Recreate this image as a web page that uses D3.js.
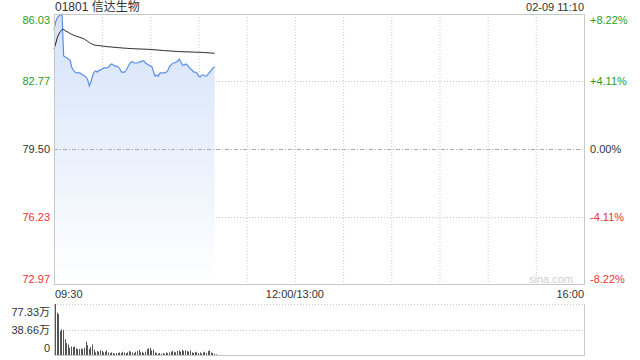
<!DOCTYPE html>
<html>
<head>
<meta charset="utf-8">
<script src="https://cdn.jsdelivr.net/npm/d3@7"></script>
<style>
  html, body { margin: 0; padding: 0; background: #fff; }
  svg { display: block; font-family: "Liberation Sans", Arial, "Noto Sans CJK SC", sans-serif; }
</style>
</head>
<body>
<svg id="chart" width="640" height="360"></svg>
<script>
// Chart data
const title = '01801 信达生物';
const stamp = '02-09 11:10';

// price per minute from 09:30
const prices = [
  85.26, 85.64, 85.84, 85.93, 85.98, 86.03, 84.00, 83.95, 83.90, 83.85,
  83.80, 83.47, 83.32, 83.22, 83.18, 83.18, 83.18, 83.13, 83.08, 83.03,
  82.98, 82.84, 82.55, 82.74, 83.03, 83.22, 83.27, 83.22, 83.32, 83.32,
  83.37, 83.42, 83.42, 83.42, 83.47, 83.56, 83.61, 83.56, 83.51, 83.51,
  83.47, 83.37, 83.22, 83.22, 83.22, 83.32, 83.47, 83.61, 83.71, 83.71,
  83.66, 83.66, 83.66, 83.71, 83.71, 83.76, 83.76, 83.66, 83.61, 83.56,
  83.51, 83.47, 83.22, 83.03, 83.08, 83.03, 83.18, 83.18, 83.18, 83.18,
  83.22, 83.32, 83.51, 83.56, 83.66, 83.66, 83.71, 83.76, 83.85, 83.71,
  83.56, 83.56, 83.61, 83.56, 83.47, 83.37, 83.32, 83.22, 83.22, 83.18,
  83.03, 82.98, 83.08, 83.08, 83.03, 83.03, 83.13, 83.22, 83.32, 83.42,
  83.47
];

// average price per minute
const averages = [
  84.34, 84.58, 84.87, 85.06, 85.18, 85.28, 85.28, 85.22, 85.18, 85.14,
  85.09, 85.04, 85.01, 84.98, 84.95, 84.93, 84.90, 84.88, 84.85, 84.81,
  84.76, 84.70, 84.65, 84.60, 84.56, 84.53, 84.52, 84.51, 84.50, 84.49,
  84.48, 84.47, 84.46, 84.45, 84.44, 84.44, 84.43, 84.42, 84.42, 84.41,
  84.40, 84.40, 84.39, 84.38, 84.38, 84.37, 84.37, 84.36, 84.36, 84.35,
  84.35, 84.35, 84.34, 84.34, 84.34, 84.33, 84.33, 84.33, 84.32, 84.32,
  84.32, 84.31, 84.30, 84.30, 84.29, 84.28, 84.28, 84.27, 84.26, 84.26,
  84.25, 84.25, 84.24, 84.24, 84.23, 84.23, 84.22, 84.22, 84.21, 84.21,
  84.21, 84.20, 84.20, 84.20, 84.20, 84.19, 84.19, 84.19, 84.18, 84.18,
  84.18, 84.18, 84.17, 84.17, 84.16, 84.16, 84.15, 84.15, 84.14, 84.14,
  84.13
];

// volume per minute, in 万
const volumes = [
  77.33, 64, 62, 36, 39, 38, 24, 18, 16, 11,
  13, 12, 13, 10, 9, 9, 10, 9, 11, 20,
  15, 9, 12, 16, 8, 4, 6, 5, 7, 6,
  4, 5, 7, 4, 3, 4, 3, 2, 3, 3,
  4, 3, 5, 4, 3, 4, 6, 5, 4, 3,
  5, 6, 8, 4, 5, 3, 5, 9, 10, 11,
  7, 8, 4, 3, 2, 3, 2, 3, 2, 4,
  3, 4, 5, 6, 5, 4, 6, 7, 5, 8,
  6, 7, 6, 5, 7, 4, 3, 5, 4, 3,
  4, 2, 4, 5, 3, 6, 7, 4, 3, 2,
  1
];

const priceTicks = [86.03, 82.77, 79.50, 76.23, 72.97];
const pctLabels = ['+8.22%', '+4.11%', '0.00%', '-4.11%', '-8.22%'];
const volTicks = [77.33, 38.66, 0];
const volLabels = ['77.33万', '38.66万', '0'];
const timeTicks = [0, 150, 330];
const timeLabels = ['09:30', '12:00/13:00', '16:00'];

// Colours
const green = '#1f9e1f';
const red = '#f03232';
const dark = '#333';
const gridColor = '#c8c8c8';

const svg = d3.select('#chart');

// Scales
const x = d3.scaleLinear().domain([0, 330]).range([54, 584]);
const y = d3.scaleLinear().domain([72.97, 86.03]).range([284, 14]);
const yVol = d3.scaleLinear().domain([0, 77.33]).range([355, 304]);

// Gradient for the area
const grad = svg.append('defs').append('linearGradient')
  .attr('id', 'fill')
  .attr('gradientUnits', 'userSpaceOnUse')
  .attr('x1', 0).attr('y1', y(86.03))
  .attr('x2', 0).attr('y2', y(72.97));
grad.append('stop').attr('offset', 0).attr('stop-color', '#d4e2f9');
grad.append('stop').attr('offset', 1).attr('stop-color', '#ffffff');

// Vertical grid every 30 minutes
svg.append('g')
  .selectAll('line')
  .data(d3.range(30, 330, 30))
  .enter().append('line')
  .attr('x1', d => x(d) + 0.5).attr('x2', d => x(d) + 0.5)
  .attr('y1', y(86.03)).attr('y2', y(72.97))
  .attr('stroke', gridColor)
  .attr('stroke-dasharray', '1,2');

// Horizontal grid in price panel
svg.append('g')
  .selectAll('line')
  .data([82.77, 76.23])
  .enter().append('line')
  .attr('x1', x(0)).attr('x2', x(330))
  .attr('y1', d => Math.round(y(d)) + 0.5).attr('y2', d => Math.round(y(d)) + 0.5)
  .attr('stroke', gridColor)
  .attr('stroke-dasharray', '1,2');

// Area + lines
const area = d3.area()
  .x((d, i) => x(i))
  .y0(y(72.97))
  .y1(d => y(d));

svg.append('path')
  .datum(prices)
  .attr('d', area)
  .attr('fill', 'url(#fill)');

// previous close line
svg.append('line')
  .attr('x1', x(0)).attr('x2', x(330))
  .attr('y1', Math.round(y(79.50)) + 0.5).attr('y2', Math.round(y(79.50)) + 0.5)
  .attr('stroke', '#aaa')
  .attr('stroke-dasharray', '4,2,1,2');

svg.append('path')
  .datum(prices)
  .attr('d', d3.line().x((d, i) => x(i)).y(d => y(d)))
  .attr('fill', 'none')
  .attr('stroke', '#5a8ee8')
  .attr('stroke-width', 1.2);

svg.append('path')
  .datum(averages)
  .attr('d', d3.line().x((d, i) => x(i)).y(d => y(d)))
  .attr('fill', 'none')
  .attr('stroke', '#222')
  .attr('stroke-width', 1);

// Price panel frame
svg.append('rect')
  .attr('x', x(0) + 0.5).attr('y', y(86.03) + 0.5)
  .attr('width', x(330) - x(0)).attr('height', y(72.97) - y(86.03))
  .attr('fill', 'none')
  .attr('stroke', gridColor);

// Left price labels
const labelOffset = i => (i === 0 ? 10 : i === priceTicks.length - 1 ? -1 : 4);
const priceColor = i => (i < 2 ? green : i === 2 ? dark : red);

svg.append('g')
  .selectAll('text')
  .data(priceTicks)
  .enter().append('text')
  .attr('x', 50)
  .attr('y', (d, i) => y(d) + labelOffset(i))
  .attr('text-anchor', 'end')
  .attr('font-size', 11)
  .attr('fill', (d, i) => priceColor(i))
  .text(d => d.toFixed(2));

// Right percent labels
svg.append('g')
  .selectAll('text')
  .data(priceTicks)
  .enter().append('text')
  .attr('x', 590)
  .attr('y', (d, i) => y(d) + labelOffset(i))
  .attr('font-size', 11)
  .attr('fill', (d, i) => priceColor(i))
  .text((d, i) => pctLabels[i]);

// Watermark
svg.append('text')
  .attr('x', 573).attr('y', 283)
  .attr('text-anchor', 'end')
  .attr('font-size', 11)
  .attr('fill', '#d0d0d0')
  .text('sina.com');

// Time labels
svg.append('g')
  .selectAll('text')
  .data(timeTicks)
  .enter().append('text')
  .attr('x', (d, i) => x(d) + (i === 0 ? 1 : 0))
  .attr('y', 298)
  .attr('text-anchor', (d, i) => ['start', 'middle', 'end'][i])
  .attr('font-size', 11)
  .attr('fill', dark)
  .text((d, i) => timeLabels[i]);

// Title and timestamp
svg.append('text')
  .attr('x', 55).attr('y', 11)
  .attr('font-size', 12)
  .attr('fill', dark)
  .text(title);

svg.append('text')
  .attr('x', 584).attr('y', 11)
  .attr('text-anchor', 'end')
  .attr('font-size', 11)
  .attr('fill', dark)
  .text(stamp);

// Volume panel grid
svg.append('g')
  .selectAll('line')
  .data([77.33, 38.66])
  .enter().append('line')
  .attr('x1', x(0)).attr('x2', x(330))
  .attr('y1', d => Math.round(yVol(d)) + 0.5).attr('y2', d => Math.round(yVol(d)) + 0.5)
  .attr('stroke', gridColor)
  .attr('stroke-dasharray', '1,2');

svg.append('path')
  .attr('d', `M${x(0) + 0.5},${yVol(77.33)}V${yVol(0) + 0.5}H${x(330) + 0.5}V${yVol(77.33)}`)
  .attr('fill', 'none')
  .attr('stroke', gridColor);

// Volume bars
svg.append('g')
  .selectAll('rect')
  .data(volumes)
  .enter().append('rect')
  .attr('x', (d, i) => Math.round(x(i)) + 1)
  .attr('y', d => yVol(d))
  .attr('width', 1)
  .attr('height', d => yVol(0) - yVol(d))
  .attr('fill', '#555');

// Volume labels
const volOffset = i => (i === 0 ? 12 : i === volTicks.length - 1 ? -3 : 4);
svg.append('g')
  .selectAll('text')
  .data(volTicks)
  .enter().append('text')
  .attr('x', 50)
  .attr('y', (d, i) => yVol(d) + volOffset(i))
  .attr('text-anchor', 'end')
  .attr('font-size', 11)
  .attr('fill', dark)
  .text((d, i) => volLabels[i]);
</script>
</body>
</html>
